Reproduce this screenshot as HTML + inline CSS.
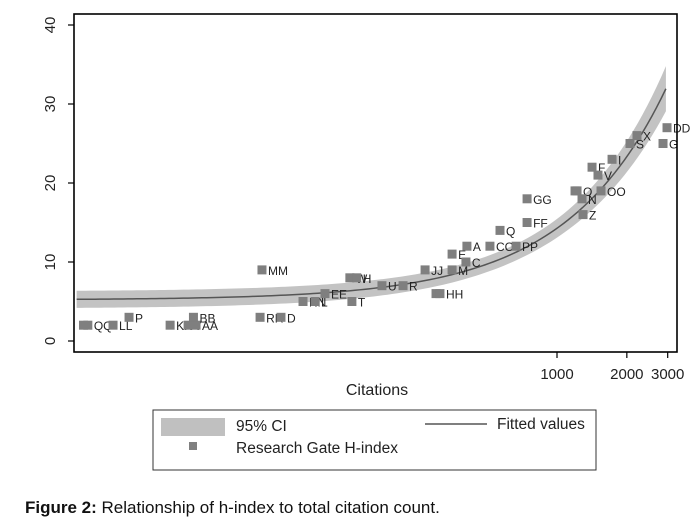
<!DOCTYPE html>
<html><head><meta charset="utf-8"><style>
body{margin:0;background:#fff;}
svg{font-family:"Liberation Sans",sans-serif;}
</style></head><body>
<svg id="chart" width="699" height="524" viewBox="0 0 699 524" xmlns="http://www.w3.org/2000/svg">
<g id="band"></g>
<g id="fit"></g>
<g id="pts"></g>
<rect x="74" y="14" width="603" height="338" fill="none" stroke="#000" stroke-width="1.6"/>
<g id="axes"></g>
<text x="377" y="395" font-size="16" text-anchor="middle" fill="#222">Citations</text>
<g>
<rect x="153" y="410" width="443" height="60" fill="#fff" stroke="#333" stroke-width="1"/>
<rect x="161" y="418" width="64" height="18" fill="#c0c0c0"/>
<text x="236" y="431" font-size="15.5" fill="#222">95% CI</text>
<line x1="425" y1="424" x2="487" y2="424" stroke="#555" stroke-width="1.6"/>
<text x="497" y="429" font-size="15.5" fill="#222">Fitted values</text>
<rect x="189" y="442" width="8" height="8" fill="#808080"/>
<text x="236" y="453" font-size="15.5" fill="#222">Research Gate H-index</text>
</g>
<text x="25" y="513" font-size="17" fill="#111"><tspan font-weight="bold">Figure 2:</tspan> Relationship of h-index to total citation count.</text>
</svg>
<script>
const labels=["K","QQ","LL","P","KK","Y","AA","BB","RR","MM","D","NN","L","EE","T","W","H","U","R","JJ","HH","HH2","M","E","C","A","CC","Q","PP","FF","GG","O","O2","N","Z","F","V","OO","I","S","X","G","DD"];
const citations=[9.1,9.5,12.2,14.3,21.5,25.7,27.8,27.1,52.5,53.5,64.6,80.4,90.6,100,130.6,128,137,176,217,270,301,313,353,353,405,409,514,568,666,743,743,1196,1220,1282,1295,1416,1502,1548,1727,2064,2212,2864,2980];
const hindex=[2,2,2,3,2,2,2,3,3,9,3,5,5,6,5,8,8,7,7,9,6,6,9,11,10,12,12,14,12,15,18,19,19,18,16,22,21,19,23,25,26,25,27];
const shownLabels=["","QQ","LL","P","KK","Y","AA","BB","RR","MM","D","NN","L","EE","T","W","H","U","R","JJ","","HH","M","E","C","A","CC","Q","PP","FF","GG","","O","N","Z","F","V","OO","I","S","X","G","DD"];
const fitCoef=[5.2,0.00907];
const ciSe=[1.0,0.00105,400];
const yTicks=[0,10,20,30,40];
const xTicks=[1000,2000,3000];
const NS="http://www.w3.org/2000/svg";
const X=c=>557+232*Math.log10(c/1000);
const Y=h=>341-7.9*h;
function mk(t,a,p){const e=document.createElementNS(NS,t);for(const k in a)e.setAttribute(k,a[k]);p.appendChild(e);return e;}
const fitV=c=>fitCoef[0]+fitCoef[1]*c;
const half=c=>Math.sqrt(ciSe[0]**2+((c-ciSe[2])*ciSe[1])**2);
let up=[],lo=[],ln=[];
for(let lx=Math.log10(8.5);lx<=Math.log10(3000)+1e-9;lx+=0.02){const c=10**lx;up.push(X(c)+","+Y(fitV(c)+half(c)));lo.unshift(X(c)+","+Y(fitV(c)-half(c)));ln.push(X(c)+","+Y(fitV(c)));}
const band=mk("polygon",{points:up.concat(lo).join(" "),fill:"#c3c3c3"},document.getElementById("band"));


const fl=mk("polyline",{points:ln.join(" "),fill:"none",stroke:"#555","stroke-width":1.5},document.getElementById("fit"));


const pg=document.getElementById("pts");
citations.forEach((c,i)=>{
 const r=mk("rect",{x:X(c)-4.5,y:Y(hindex[i])-4.5,width:9,height:9,fill:"#7f7f7f"},pg);
 
 
 if(shownLabels[i]){const t=mk("text",{x:X(c)+6,y:Y(hindex[i])+5,"font-size":12,fill:"#222"},pg);t.textContent=shownLabels[i];
 
 }
});
const ax=document.getElementById("axes");
yTicks.forEach(v=>{
 const l=mk("line",{x1:68,x2:74,y1:Y(v),y2:Y(v),stroke:"#000","stroke-width":1.2},ax);
 
 
 const t=mk("text",{x:0,y:0,"font-size":15,"text-anchor":"middle",fill:"#222",transform:`translate(55,${Y(v)}) rotate(-90)`},ax);t.textContent=v;
 
 
});
xTicks.forEach(v=>{
 const l=mk("line",{x1:X(v),x2:X(v),y1:352,y2:358,stroke:"#000","stroke-width":1.2},ax);
 
 
 const t=mk("text",{x:X(v),y:379,"font-size":15,"text-anchor":"middle",fill:"#222"},ax);t.textContent=v;
 
 
});
</script>
</body></html>
